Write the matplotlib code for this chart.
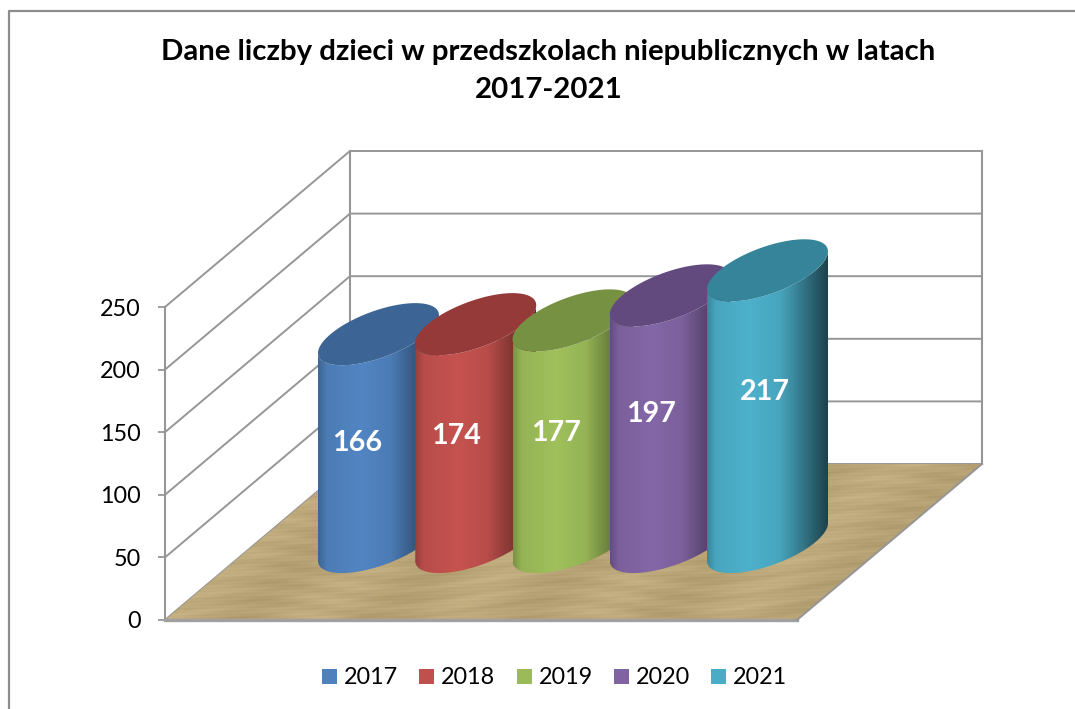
import numpy as np
from matplotlib import pyplot as plt
from matplotlib.patches import Patch, Polygon
from matplotlib.lines import Line2D

plt.rcParams['font.family'] = ['Lato', 'DejaVu Sans']

# data
years = ['2017', '2018', '2019', '2020', '2021']
values = [166, 174, 177, 197, 217]
y_ticks = [0, 50, 100, 150, 200, 250]
title = 'Dane liczby dzieci w przedszkolach niepublicznych w latach\n2017-2021'

# colours
side_colors = ['#4f81bd', '#c0504d', '#9bbb59', '#8064a2', '#4bacc6']
top_colors = ['#3c6596', '#953a38', '#779143', '#624a7e', '#36849a']
grid_color = '#969696'

W, H = 1075, 709
# front plane of the 3d box, in pixels
LEFT, RIGHT, BOTTOM, TOP = 165, 797, 620, 307
PX_X = 97.25                       # pixels per category
PX_Y = (BOTTOM - TOP) / 250        # pixels per unit of value
DEPTH_X = 185 / PX_X
DEPTH_Y = 156 / PX_Y
FIRST = 121 / PX_X


def shade(color, x):
    # side of a cylinder, dark at the edges
    rgb = np.array(plt.matplotlib.colors.to_rgb(color))
    f = np.interp(x, [0, 0.07, 0.35, 0.6, 0.8, 1], [0.78, 0.96, 1.03, 0.96, 0.68, 0.38])
    return np.clip(rgb[None, :] * f[:, None], 0, 1)


def ellipse(cx, level, t):
    # circle lying in the floor plane, seen through the same projection
    a = 48 / PX_X
    b = DEPTH_X * 0.199
    c = DEPTH_Y * 0.199
    return cx + a * np.cos(t) + b * np.sin(t), level + c * np.sin(t)


def wood():
    yy, xx = np.mgrid[0:170, 0:820]
    n = (np.sin(yy * 1.7 + xx * 0.05) * 0.9 + np.sin(yy * 0.73 + xx * 0.11) * 0.8
         + np.sin((xx + yy) * 0.045) * 1.8 + np.sin(yy * 0.31 + np.sin(xx * 0.02) * 3) * 1.3)
    base = np.array([0.73, 0.65, 0.47])
    return np.clip(base[None, None, :] + n[:, :, None] * 0.012, 0, 1)


fig = plt.figure(figsize=(W / 100, H / 100), dpi=100)
ax = fig.add_axes([LEFT / W, 1 - BOTTOM / H, (RIGHT - LEFT) / W, (BOTTOM - TOP) / H])
x0 = -FIRST
x1 = x0 + (RIGHT - LEFT) / PX_X
ax.set_xlim(x0, x1)
ax.set_ylim(0, 250)
ax.autoscale(False)
ax.patch.set_visible(False)

for s in ['top', 'right', 'bottom']:
    ax.spines[s].set_visible(False)
ax.spines['left'].set_color(grid_color)
ax.spines['left'].set_linewidth(1.5)
ax.set_xticks([])
ax.set_yticks(y_ticks)
ax.tick_params(axis='y', length=5, width=1.3, color=grid_color, labelsize=16.8, pad=12.6)

# walls
for v in y_ticks:
    ax.plot([x0, x0 + DEPTH_X, x1 + DEPTH_X], [v, v + DEPTH_Y, v + DEPTH_Y],
            color=grid_color, lw=1.4, clip_on=False, zorder=1)
ax.plot([x0 + DEPTH_X] * 2, [DEPTH_Y, 250 + DEPTH_Y], color=grid_color, lw=1.5, clip_on=False, zorder=1)
ax.plot([x1 + DEPTH_X] * 2, [DEPTH_Y, 250 + DEPTH_Y], color=grid_color, lw=1.5, clip_on=False, zorder=1)

# floor
floor = Polygon([(x0, 0), (x1, 0), (x1 + DEPTH_X, DEPTH_Y), (x0 + DEPTH_X, DEPTH_Y)],
                closed=True, facecolor='none', edgecolor='none', clip_on=False)
ax.add_patch(floor)
im = ax.imshow(wood(), extent=(x0, x1 + DEPTH_X, 0, DEPTH_Y), aspect='auto', zorder=2)
im.set_clip_box(fig.bbox)
im.set_clip_path(floor)
ax.plot([x0, x1], [0, 0], color='#a0a0a0', lw=2.4, clip_on=False, zorder=3)
ax.plot([x1, x1 + DEPTH_X], [0, DEPTH_Y], color=grid_color, lw=1.4, clip_on=False, zorder=3)

# cylinders
phi = np.arctan2(DEPTH_X * 0.199 * PX_X, 48)
front = np.linspace(phi + np.pi, phi + 2 * np.pi, 80)
around = np.linspace(0, 2 * np.pi, 160)
base_level = DEPTH_Y / 2
for i, v in enumerate(values):
    z = 10 + i * 3
    bx, by = ellipse(i + DEPTH_X / 2, base_level, front)
    tx, ty = ellipse(i + DEPTH_X / 2, base_level + v, front)
    side = Polygon(np.r_[np.c_[bx, by], np.c_[tx, ty][::-1]], closed=True,
                   facecolor='none', edgecolor='none', clip_on=False)
    ax.add_patch(side)
    grad = shade(side_colors[i], np.linspace(0, 1, 128))[None, :, :]
    g = ax.imshow(grad, extent=(bx.min(), bx.max(), base_level - 40, base_level + v + 40),
                  aspect='auto', zorder=z, interpolation='bilinear')
    g.set_clip_box(fig.bbox)
    g.set_clip_path(side)
    ex, ey = ellipse(i + DEPTH_X / 2, base_level + v, around)
    ax.fill(ex, ey, color=top_colors[i], lw=0, clip_on=False, zorder=z + 1)

# value labels, placed by hand like in the original
label_dx = [-21.5, -19.5, -16.5, -19.5, -2.5]
label_dy = [-4.5, -3, -2, 4.5, 14]
for i, v in enumerate(values):
    ax.text(i + DEPTH_X / 2 + label_dx[i] / PX_X, base_level + v / 2 + label_dy[i] / PX_Y, str(v),
            color='white', fontsize=20.6, fontweight='bold', ha='center', va='center', zorder=40)

fig.text(548.5 / W, 1 - 71 / H, title, ha='center', va='center', fontsize=21.2, fontweight='bold',
         linespacing=1.55, color='black')

handles = [Patch(facecolor=c, edgecolor='none', label=y) for c, y in zip(side_colors, years)]
ax.legend(handles=handles, ncol=5, loc='center left', bbox_to_anchor=(322 / W, 1 - 678 / H),
          bbox_transform=fig.transFigure, frameon=False, fontsize=16.8, borderpad=0, borderaxespad=0,
          handlelength=0.64, handleheight=0.64, handletextpad=0.3, columnspacing=0.91)

# outer frame of the chart: no right or bottom side in the crop
fig.add_artist(Line2D([9 / W, 9 / W, 1], [0, 1 - 11 / H, 1 - 11 / H], color='#8c8c8c', lw=1.6))

fig.savefig('out.png', dpi=100)
